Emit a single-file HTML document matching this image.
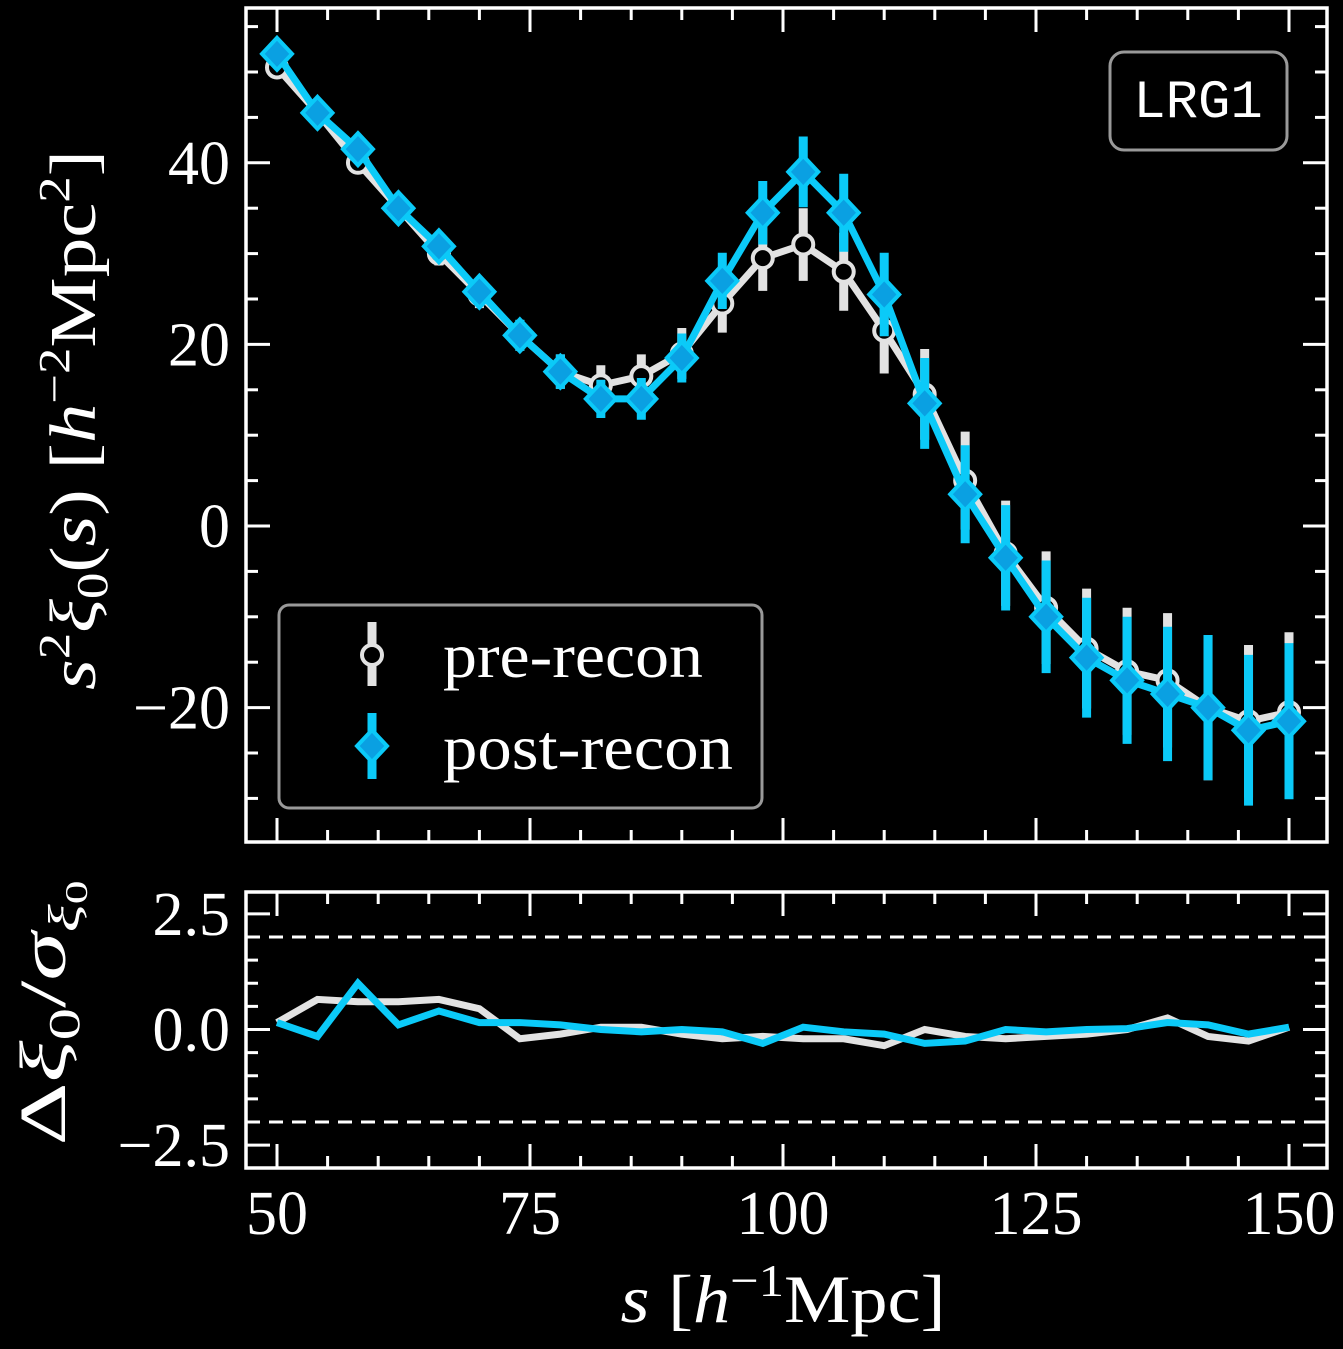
<!DOCTYPE html>
<html><head><meta charset="utf-8"><style>
html,body{margin:0;padding:0;background:#000;}
svg{display:block;}
text{font-family:"Liberation Serif",serif;fill:#fff;}
</style></head><body>
<svg id="chart" width="1343" height="1349" viewBox="0 0 1343 1349" xmlns="http://www.w3.org/2000/svg">
<rect x="0" y="0" width="1343" height="1349" fill="#000"/>
<g id="topPanel"></g>
<g id="botPanel"></g>
</svg>
<script>
const sVals=[50,54,58,62,66,70,74,78,82,86,90,94,98,102,106,110,114,118,122,126,130,134,138,142,146,150];
const preVals=[50.5,45.5,40,35,30,25.5,21,17,15.5,16.5,19,24.5,29.5,31,28,21.5,14.5,5,-3,-9,-13.5,-16,-17,-20,-21.5,-20.5];
const preErr=[1,1,1,1.2,1.3,1.5,1.7,1.9,2.2,2.4,2.8,3.2,3.6,4,4.3,4.7,5,5.4,5.8,6.2,6.6,7,7.4,8,8.4,8.8];
const postVals=[52,45.5,41.5,35,30.8,25.8,21,17,14,14,18.5,27,34.5,39,34.5,25.5,13.5,3.5,-3.5,-10,-14.5,-17,-18.5,-20,-22.5,-21.5];
const postErr=[1,1,1,1.2,1.3,1.5,1.7,1.9,2.1,2.3,2.7,3.1,3.5,3.9,4.3,4.6,5,5.4,5.8,6.2,6.6,7,7.4,8,8.3,8.6];
const preResid=[0.15,0.65,0.6,0.6,0.65,0.45,-0.2,-0.1,0.05,0.05,-0.1,-0.2,-0.15,-0.2,-0.2,-0.35,0,-0.15,-0.2,-0.15,-0.1,0,0.25,-0.15,-0.25,0.05];
const postResid=[0.15,-0.15,1.0,0.1,0.4,0.15,0.15,0.1,0,-0.05,0,-0.05,-0.3,0.05,-0.05,-0.1,-0.3,-0.25,0,-0.05,0,0.02,0.15,0.1,-0.1,0.05];
const xTicks=[50,75,100,125,150];
const yTopTicks=[-20,0,20,40];
const yBotTicks=[-2.5,0.0,2.5];

const NS="http://www.w3.org/2000/svg";
const X=v=>277+(v-50)*10.12;
const YT=v=>526-v*9.08;
const YB=v=>1029.5-v*46.25;
const L=246,R=1327,TT=8,TB=842,BT=892,BB=1168;
function mk(p,tag,a){const e=document.createElementNS(NS,tag);for(const k in a)e.setAttribute(k,a[k]);p.appendChild(e);return e;}
const topG=document.getElementById('topPanel'),botG=document.getElementById('botPanel');

function frame(g,t,b,Yf,ymin,ymax,minorStep,majorList){
  for(let v=50;v<=155;v+=5){const x=X(v);if(x>R)continue;const maj=(v%25===0);const len=maj?24:12;
    let e=mk(g,'line',{x1:x,y1:b,x2:x,y2:b-len,stroke:'#fff','stroke-width':3});
    
    
    e=mk(g,'line',{x1:x,y1:t,x2:x,y2:t+len,stroke:'#fff','stroke-width':3});
    
    }
  for(let v=Math.ceil(ymin/minorStep)*minorStep;v<=ymax;v+=minorStep){const y=Yf(v);if(y<t||y>b)continue;
    const maj=majorList.some(m=>Math.abs(m-v)<1e-6);const len=maj?24:12;
    let e=mk(g,'line',{x1:L,y1:y,x2:L+len,y2:y,stroke:'#fff','stroke-width':3});
    
    
    e=mk(g,'line',{x1:R,y1:y,x2:R-len,y2:y,stroke:'#fff','stroke-width':3});
    
    }
  const r=mk(g,'rect',{x:L,y:t,width:R-L,height:b-t,fill:'none',stroke:'#fff','stroke-width':3.5});
  
  
}
frame(topG,TT,TB,YT,-34,57,5,yTopTicks);
frame(botG,BT,BB,YB,-3,3,0.5,yBotTicks);

yTopTicks.forEach(v=>{const t=mk(topG,'text',{x:230,y:YT(v)+21,'text-anchor':'end','font-size':62});
  t.textContent=v<0?'\u2212'+Math.abs(v):String(v);
  
  });
yBotTicks.forEach(v=>{const t=mk(botG,'text',{x:230,y:YB(v)+21,'text-anchor':'end','font-size':62});
  t.textContent=v<0?'\u2212'+Math.abs(v).toFixed(1):v.toFixed(1);
  
  });
xTicks.forEach(v=>{const t=mk(botG,'text',{x:X(v),y:1234,'text-anchor':'middle','font-size':62});
  t.textContent=String(v);
  
  });

[2,-2].forEach(v=>{const e=mk(botG,'line',{x1:L,y1:YB(v),x2:R,y2:YB(v),stroke:'#fff','stroke-width':3,'stroke-dasharray':'14 9'});
  
  });

const GRAY='#e2e2e2',BLUE='#0bcaf8',BLUEF='#0aa0e2';
function series(vals,errs,color,name){
  const g=mk(topG,'g',{});
  
  
  vals.forEach((v,i)=>{const e=mk(g,'line',{x1:X(sVals[i]),x2:X(sVals[i]),y1:YT(v+errs[i]),y2:YT(v-errs[i]),stroke:color,'stroke-width':9});
    
    });
  const p=mk(g,'polyline',{points:vals.map((v,i)=>X(sVals[i])+','+YT(v)).join(' '),fill:'none',stroke:color,'stroke-width':7,'stroke-linejoin':'round'});
  
  
  return g;
}
const g1=series(preVals,preErr,GRAY,'pre-recon');
preVals.forEach((v,i)=>{const c=mk(g1,'circle',{cx:X(sVals[i]),cy:YT(v),r:10,fill:'#000',stroke:GRAY,'stroke-width':4});
  
  });
const g2=series(postVals,postErr,BLUE,'post-recon');
function diamond(p,cx,cy,nm){const d=mk(p,'polygon',{points:`${cx},${cy-16} ${cx+15},${cy} ${cx},${cy+16} ${cx-15},${cy}`,fill:BLUEF,stroke:BLUE,'stroke-width':4,'stroke-linejoin':'miter'});
  
  }
postVals.forEach((v,i)=>diamond(g2,X(sVals[i]),YT(v),'post-recon-marker'));

[[preResid,GRAY,'pre-recon-residual'],[postResid,BLUE,'post-recon-residual']].forEach(([a,c,n])=>{
  const p=mk(botG,'polyline',{points:a.map((v,i)=>X(sVals[i])+','+YB(v)).join(' '),fill:'none',stroke:c,'stroke-width':7,'stroke-linejoin':'miter'});
  
  });

const lg=mk(topG,'g',{});


mk(lg,'rect',{x:279,y:605,width:483,height:203,rx:10,fill:'#000',stroke:'#999','stroke-width':3});
mk(lg,'line',{x1:372,x2:372,y1:622,y2:686,stroke:GRAY,'stroke-width':9});
mk(lg,'circle',{cx:372,cy:655,r:10,fill:'#000',stroke:GRAY,'stroke-width':4});
let t=mk(lg,'text',{x:443,y:677,'font-size':64,textLength:260,lengthAdjust:'spacingAndGlyphs'});
t.textContent='pre-recon';


mk(lg,'line',{x1:372,x2:372,y1:713,y2:779,stroke:BLUE,'stroke-width':9});
diamond(lg,372,746,'legend-marker-post');
t=mk(lg,'text',{x:443,y:769,'font-size':64,textLength:290,lengthAdjust:'spacingAndGlyphs'});
t.textContent='post-recon';



const tg=mk(topG,'g',{});


mk(tg,'rect',{x:1110,y:52,width:177,height:98,rx:14,fill:'#000',stroke:'#999','stroke-width':3});
t=mk(tg,'text',{x:1198,y:117,'text-anchor':'middle','font-size':54,style:'font-family:"Liberation Mono",monospace'});
t.textContent='LRG1';



t=mk(topG,'text',{transform:'translate(95,420) rotate(-90)','text-anchor':'middle','font-size':66,textLength:540,lengthAdjust:'spacingAndGlyphs'});
t.innerHTML='<tspan font-style="italic">s</tspan><tspan dy="-26" font-size="44">2</tspan><tspan dy="26" font-style="italic">ξ</tspan><tspan dy="12" font-size="44">0</tspan><tspan dy="-12">(</tspan><tspan font-style="italic">s</tspan><tspan>) [</tspan><tspan font-style="italic">h</tspan><tspan dy="-26" font-size="44">−2</tspan><tspan dy="26">Mpc</tspan><tspan dy="-26" font-size="44">2</tspan><tspan dy="26">]</tspan>';


t=mk(botG,'text',{transform:'translate(65,1013) rotate(-90)','text-anchor':'middle','font-size':66,textLength:265,lengthAdjust:'spacingAndGlyphs'});
t.innerHTML='Δ<tspan font-style="italic">ξ</tspan><tspan dy="14" font-size="44">0</tspan><tspan dy="-14">/</tspan><tspan font-style="italic">σ</tspan><tspan dy="14" font-size="44" font-style="italic">ξ</tspan><tspan dy="8" font-size="32">0</tspan>';


t=mk(botG,'text',{x:783,y:1322,'text-anchor':'middle','font-size':68,textLength:325,lengthAdjust:'spacingAndGlyphs'});
t.innerHTML='<tspan font-style="italic">s</tspan> [<tspan font-style="italic">h</tspan><tspan dy="-26" font-size="46">−1</tspan><tspan dy="26">Mpc]</tspan>';


</script>
</body></html>
